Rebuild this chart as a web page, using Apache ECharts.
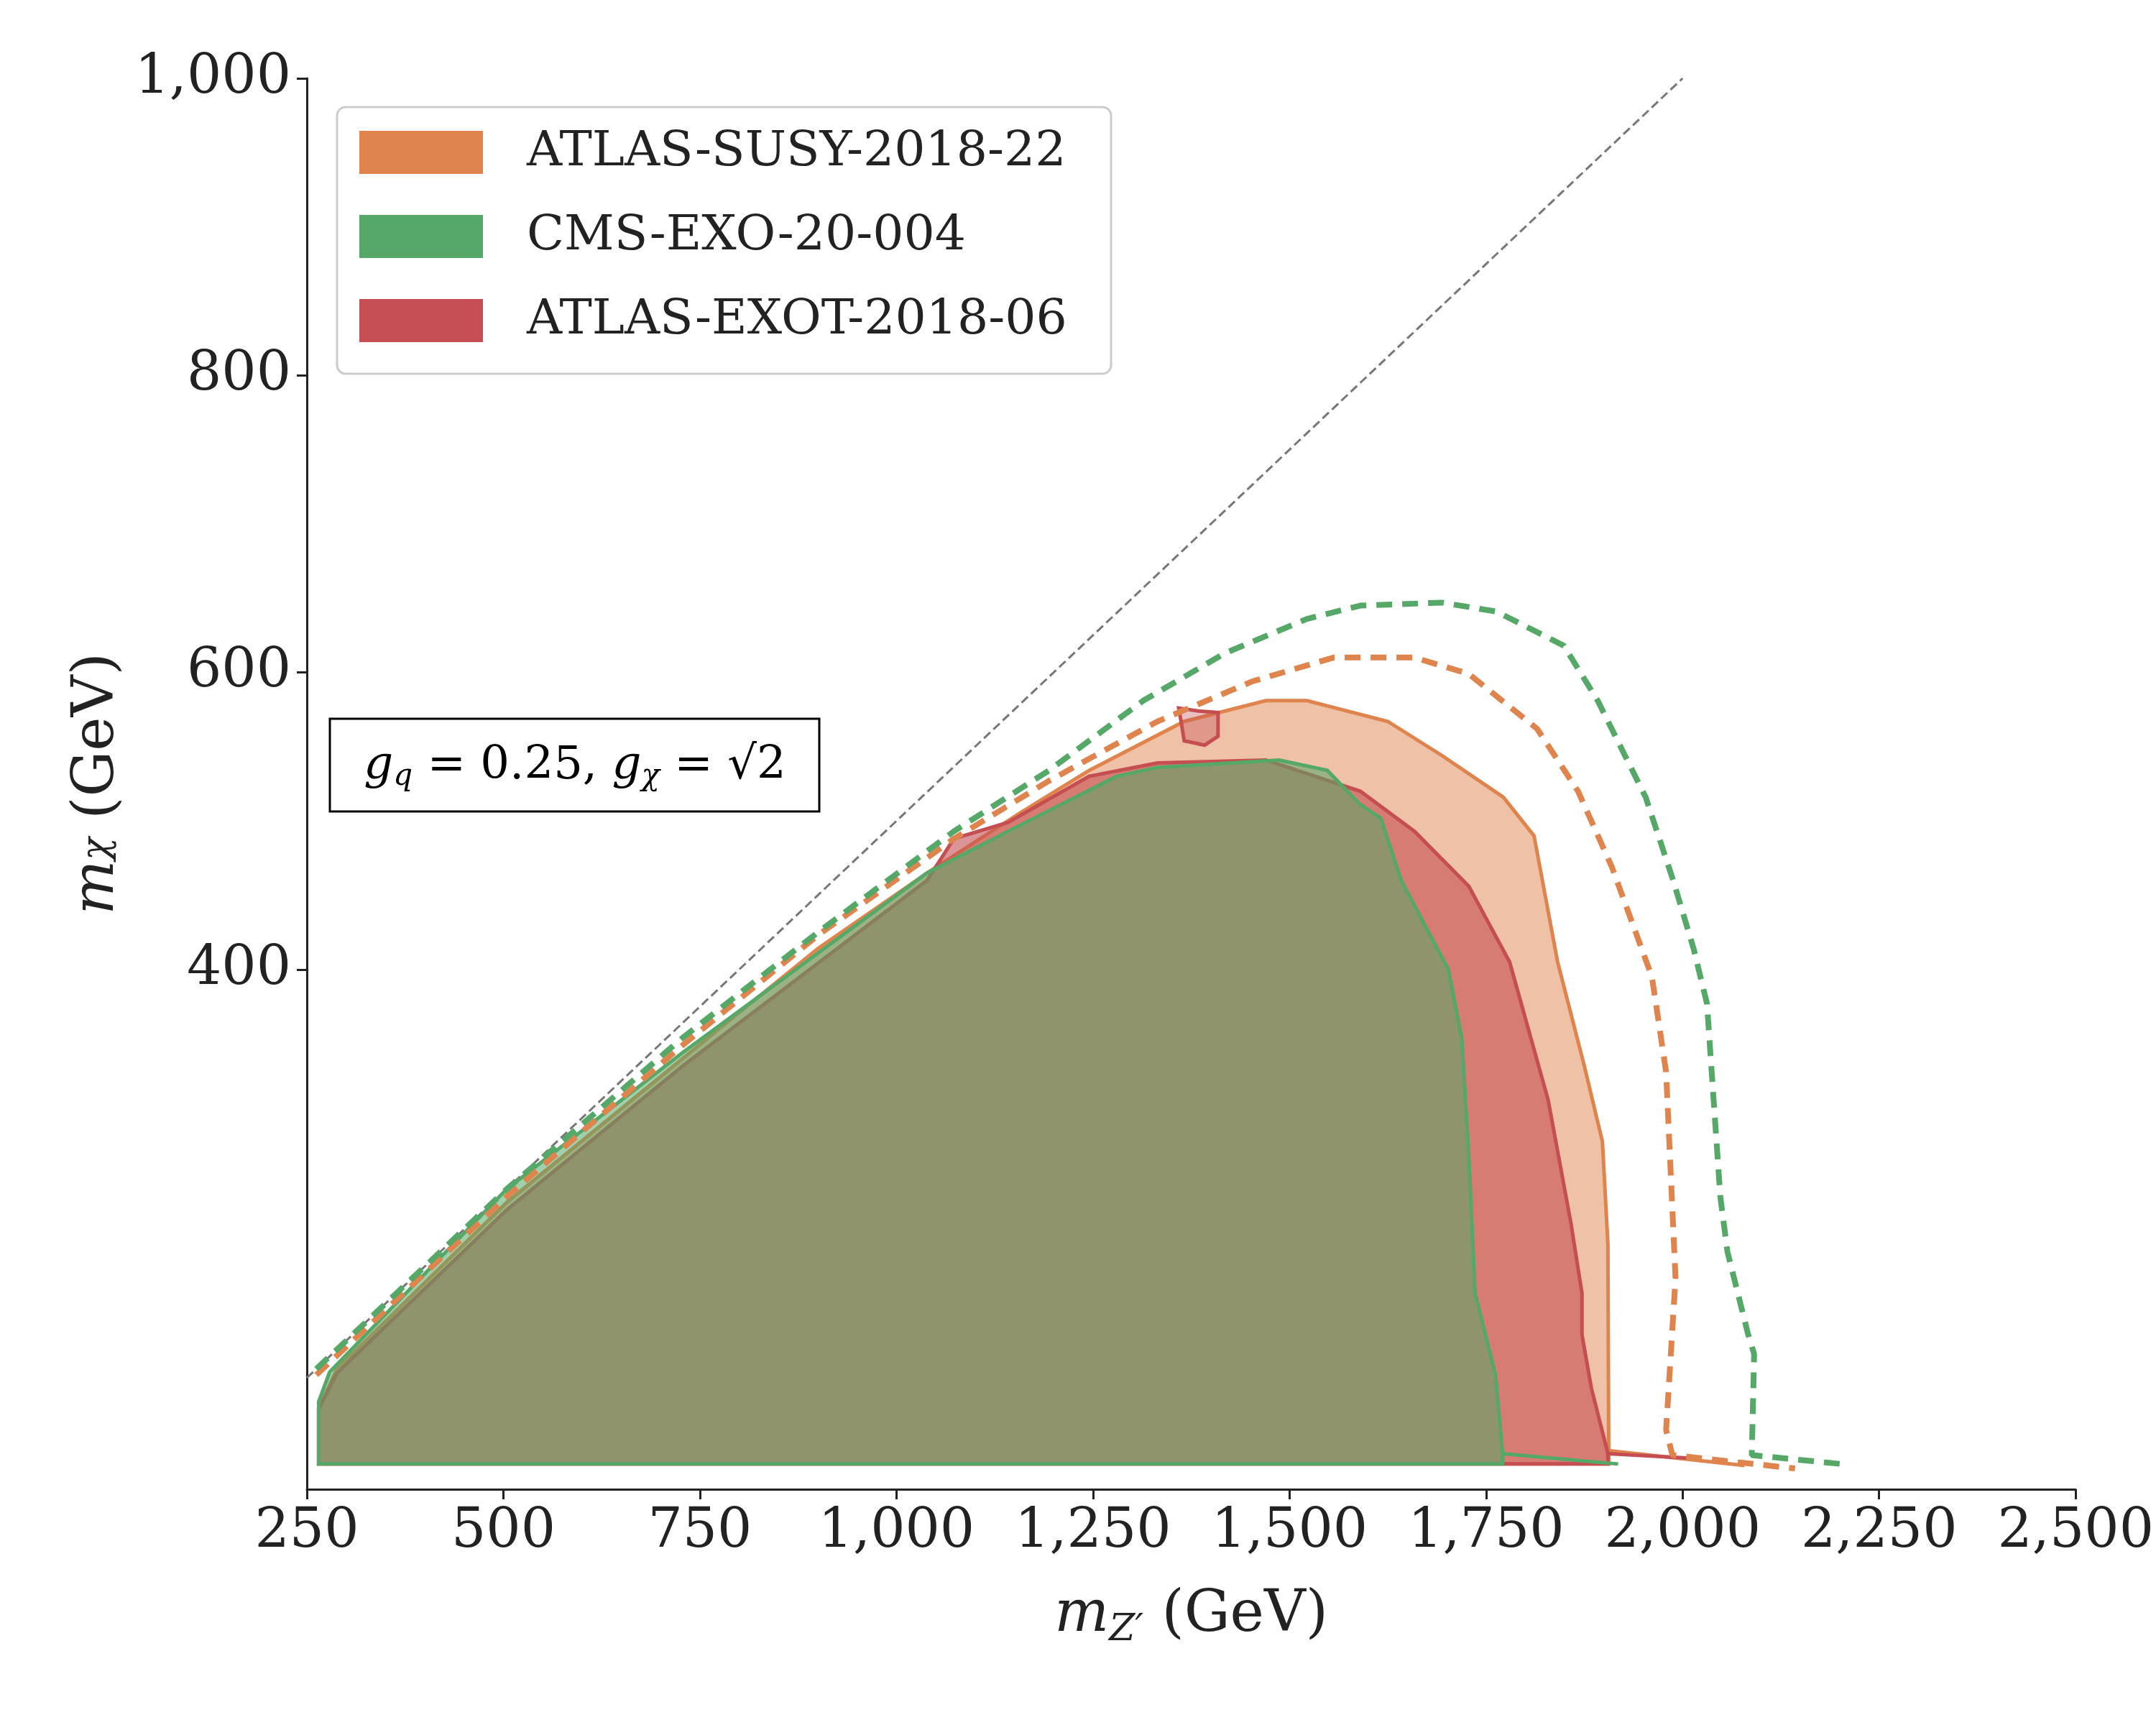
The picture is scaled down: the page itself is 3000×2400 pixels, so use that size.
<!DOCTYPE html>
<html><head><meta charset="utf-8">
<script src="https://cdn.jsdelivr.net/npm/echarts@6/dist/echarts.min.js"></script>
<style>html,body{margin:0;background:#fff}#c{width:3000px;height:2400px}</style></head>
<body><div id="c"></div>
<script>
const xTicks=[250,500,750,1000,1250,1500,1750,2000,2250,2500];
const yTicks=[200,400,600,800,1000];
const susyObs=[[265,67],[265,104],[288,131],[504,243],[728,340],[900,414],[1039,465],[1159,506],[1245,534],[1366,567],[1470,581],[1522,581],[1625,567],[1694,544],[1772,516],[1811,490],[1841,405],[1875,335],[1898,284],[1905,215],[1906,76],[1906,67]];
const susyLine=[[1906,76],[2079,66]];
const exotObs=[[265,67],[265,104],[288,128],[504,238],[728,335],[1039,460],[1073,488],[1142,499],[1245,530],[1332,539],[1470,541],[1590,520],[1659,493],[1728,456],[1780,405],[1829,312],[1858,229],[1872,182],[1872,154],[1884,118],[1905,74],[1905,67]];
const exotLine=[[1905,74],[2005,71]];
const exotIsland=[[1359,576],[1384,574],[1409,573],[1409,557],[1392,551],[1366,554],[1362,567]];
const cmsObs=[[265,67],[265,109],[279,129],[504,252],[728,344],[1039,465],[1142,493],[1280,530],[1332,536],[1487,541],[1548,534],[1590,511],[1616,502],[1642,460],[1702,400],[1719,354],[1728,275],[1736,182],[1762,127],[1771,74],[1771,67]];
const cmsLine=[[1771,74],[1918,67]];
const susyExp=[[262,127],[504,247],[728,349],[900,423],[1073,488],[1194,527],[1332,567],[1453,594],[1556,610],[1659,610],[1728,599],[1815,562],[1867,520],[1910,469],[1961,395],[1979,331],[1991,192],[1979,90],[1987,73],[2143,64]];
const cmsExp=[[262,131],[504,252],[728,354],[900,425],[1073,493],[1194,534],[1314,581],[1418,613],[1522,636],[1590,645],[1694,647],[1763,641],[1849,618],[1892,581],[1953,516],[1988,460],[2014,414],[2031,377],[2048,247],[2057,210],[2083,155],[2091,141],[2088,73],[2202,67]];
const diag=[[250,125],[2000,1000]];
const names=['ATLAS-SUSY-2018-22','CMS-EXO-20-004','ATLAS-EXOT-2018-06'];
const cols=['#e0844e','#55a868','#c44e52'];
const F='DejaVu Serif';
function poly(name,data,fill,stroke,z){return{name,type:'custom',z,data:[0],renderItem:(p,api)=>({type:'polygon',shape:{points:data.map(d=>api.coord(d))},style:{fill,stroke,lineWidth:5}})};}
function line(data,color,type,w,z,name){return{name,type:'line',data,symbol:'none',z,lineStyle:{color,type,width:w},itemStyle:{color}};}
const ch=echarts.init(document.getElementById('c'));
ch.setOption({
 animation:false,backgroundColor:'#fff',
 grid:{left:427,right:79,top:109,bottom:328},
 xAxis:{type:'value',min:250,max:2500,interval:250,name:'{i|m}{s|Z′} (GeV)',nameLocation:'middle',nameGap:130,
  nameTextStyle:{fontFamily:F,fontSize:80,color:'#222',rich:{i:{fontStyle:'italic',fontFamily:F,fontSize:80},s:{fontStyle:'italic',fontFamily:F,fontSize:52,verticalAlign:'bottom',padding:[40,0,0,0]}}},
  axisLine:{lineStyle:{color:'#222',width:3}},axisTick:{length:14,lineStyle:{width:3}},splitLine:{show:false},
  axisLabel:{fontFamily:F,fontSize:76,color:'#222',margin:22}},
 yAxis:{type:'value',min:50,max:1000,name:'{i|m}{s|χ} (GeV)',nameLocation:'middle',nameGap:140,nameRotate:90,
  nameTextStyle:{fontFamily:F,fontSize:80,color:'#222',rich:{i:{fontStyle:'italic',fontFamily:F,fontSize:80},s:{fontStyle:'italic',fontFamily:F,fontSize:52}}},
  axisLine:{lineStyle:{color:'#222',width:3}},axisTick:{length:14,lineStyle:{width:3}},splitLine:{show:false},
  axisLabel:{fontFamily:F,fontSize:76,color:'#222',margin:22,customValues:yTicks,showMinLabel:false},
  axisTick:{customValues:yTicks,length:14,lineStyle:{width:3}}},
 legend:{show:false},
 series:[
  line(diag,'#777','dashed',3,1),
  poly(names[0],susyObs,'rgba(224,132,78,0.5)',cols[0],2),
  line(susyLine,cols[0],'solid',5,2),
  poly(names[2],exotObs,'rgba(196,78,82,0.6)',cols[2],3),
  line(exotLine,cols[2],'solid',5,3),
  poly('island',exotIsland,'rgba(196,78,82,0.35)',cols[2],3),
  poly(names[1],cmsObs,'rgba(85,168,104,0.55)',cols[1],4),
  line(cmsLine,cols[1],'solid',5,4),
  line(susyExp,cols[0],[22,14],8,5),
  line(cmsExp,cols[1],[22,14],8,5)
 ],
 graphic:[
  {type:'rect',shape:{x:469,y:149,width:1077,height:371,r:12},style:{fill:'rgba(255,255,255,0.85)',stroke:'#ccc',lineWidth:3},z:10},
  ...names.map((n,i)=>({type:'group',z:11,children:[
   {type:'rect',shape:{x:500,y:182+i*117,width:172,height:60},style:{fill:cols[i]},z:11},
   {type:'text',x:733,y:212+i*117,style:{text:n,font:'68px "DejaVu Serif"',fill:'#222',textVerticalAlign:'middle'},z:11}]})),
  {type:'rect',shape:{x:459,y:1000,width:681,height:129},style:{fill:'#fff',stroke:'#000',lineWidth:3},z:10},
  {type:'text',x:800,y:1066,z:11,style:{text:'{i|g}{s|q} = 0.25, {i|g}{s|χ} = √2',align:'center',verticalAlign:'middle',
   rich:{i:{fontFamily:F,fontStyle:'italic',fontSize:64,fill:'#000'},s:{fontFamily:F,fontStyle:'italic',fontSize:42,fill:'#000',padding:[30,0,0,0]}},fontFamily:F,fontSize:64,fill:'#000'}}
 ]
});
</script></body></html>
